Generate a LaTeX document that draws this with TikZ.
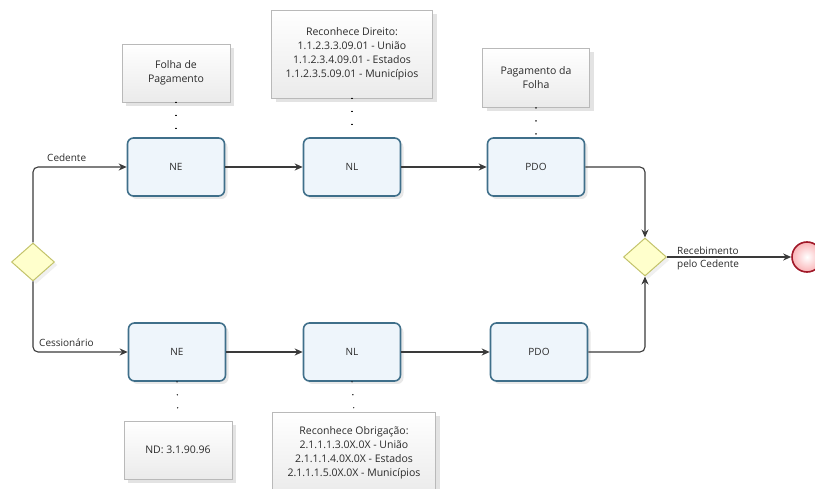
\documentclass[tikz,border=0pt]{standalone}
\usepackage{fontspec}
\setmainfont{Open Sans}
\usetikzlibrary{shapes.geometric,shadows,arrows.meta}
\definecolor{taskborder}{HTML}{3F6F8A}
\definecolor{taskfill}{HTML}{EEF5FB}
\definecolor{gwfill}{HTML}{FFFFCC}
\definecolor{gwborder}{HTML}{C3C36A}
\definecolor{endborder}{HTML}{A01828}
\definecolor{endfill}{HTML}{F8D6DA}
\definecolor{flowc}{HTML}{3A3A3A}
\definecolor{txt}{HTML}{2A2A2A}
\begin{document}
\begin{tikzpicture}[x=1pt,y=-1pt,
  task/.style={draw=taskborder, line width=1.6pt, fill=taskfill, rounded corners=6pt,
    minimum width=97pt, minimum height=58pt, inner sep=0pt,
    font=\fontsize{10}{12}\selectfont, text=txt,
    drop shadow={opacity=0.18, shadow xshift=3pt, shadow yshift=-3pt}},
  note/.style={draw=gray!55, line width=0.8pt, top color=white, bottom color=gray!16,
    align=center, inner sep=0pt, font=\fontsize{10.5}{14}\selectfont, text=txt,
    drop shadow={opacity=0.22, shadow xshift=4pt, shadow yshift=-4pt}},
  gw/.style={diamond, draw=gwborder, fill=gwfill, line width=1pt, inner sep=0pt,
    minimum width=43pt, minimum height=38pt,
    drop shadow={opacity=0.12, shadow xshift=3pt, shadow yshift=-3pt}},
  endev/.style={circle, draw=endborder, line width=1.6pt, inner color=white, outer color=endfill!80!red!90, minimum size=30pt, inner sep=0pt},
  flow/.style={draw=flowc, line width=1.1pt, rounded corners=5pt, -{Stealth[length=8pt,width=7pt]}},
  assoc/.style={draw=black, line width=1.4pt, dash pattern=on 0.01pt off 13pt, line cap=round},
  lbl/.style={font=\fontsize{10}{13}\selectfont, text=txt, inner sep=0pt}
]
\useasboundingbox (0,0) rectangle (815,489);

% tasks
\node[task] (NE1)  at (176,167) {NE};
\node[task] (NL1)  at (352,167) {NL};
\node[task] (PDO1) at (536,167) {PDO};
\node[task] (NE2)  at (177,352) {NE};
\node[task] (NL2)  at (352,352) {NL};
\node[task] (PDO2) at (539,352) {PDO};

% gateways and end
\node[gw] (G1) at (33,262) {};
\node[gw] (G2) at (645,257) {};
\node[endev] (END) at (807,257) {};

% notes
\node[note, minimum width=108pt, minimum height=58pt] (N1) at (176,73) {Folha de\\Pagamento};
\node[note, minimum width=161pt, minimum height=88pt] (N2) at (352,54)
  {Reconhece Direito:\\1.1.2.3.3.09.01 - União\\1.1.2.3.4.09.01 - Estados\\1.1.2.3.5.09.01 - Municípios};
\node[note, minimum width=107pt, minimum height=59pt] (N3) at (536,78) {Pagamento da\\Folha};
\node[note, minimum width=108pt, minimum height=58pt] (N4) at (178,450) {ND: 3.1.90.96};
\node[note, minimum width=163pt, minimum height=82pt] (N5) at (354,453)
  {Reconhece Obrigação:\\2.1.1.1.3.0X.0X - União\\2.1.1.1.4.0X.0X - Estados\\2.1.1.1.5.0X.0X - Municípios};

% associations
\draw[assoc] (N1.south) -- (NE1.north);
\draw[assoc] (N2.south) -- (NL1.north);
\draw[assoc] (N3.south) -- (PDO1.north);
\draw[assoc] (NE2.south) -- (N4.north);
\draw[assoc] (NL2.south) -- (N5.north);

% flows
\draw[flow] (G1.north) |- (NE1.west);
\draw[flow] (G1.south) |- (NE2.west);
\draw[flow] (NE1.east) -- (NL1.west);
\draw[flow] (NL1.east) -- (PDO1.west);
\draw[flow] (NE2.east) -- (NL2.west);
\draw[flow] (NL2.east) -- (PDO2.west);
\draw[flow] (PDO1.east) -| (G2.north);
\draw[flow] (PDO2.east) -| (G2.south);
\draw[flow] (G2.east) -- (END.west);

% labels
\node[lbl, anchor=west] (Lced) at (47,158) {Cedente};
\node[lbl, anchor=west] (Lces) at (39,343) {Cessionário};
\node[lbl, anchor=west, align=left] (Lrec) at (677,258) {Recebimento\\pelo Cedente};
\end{tikzpicture}
\end{document}
